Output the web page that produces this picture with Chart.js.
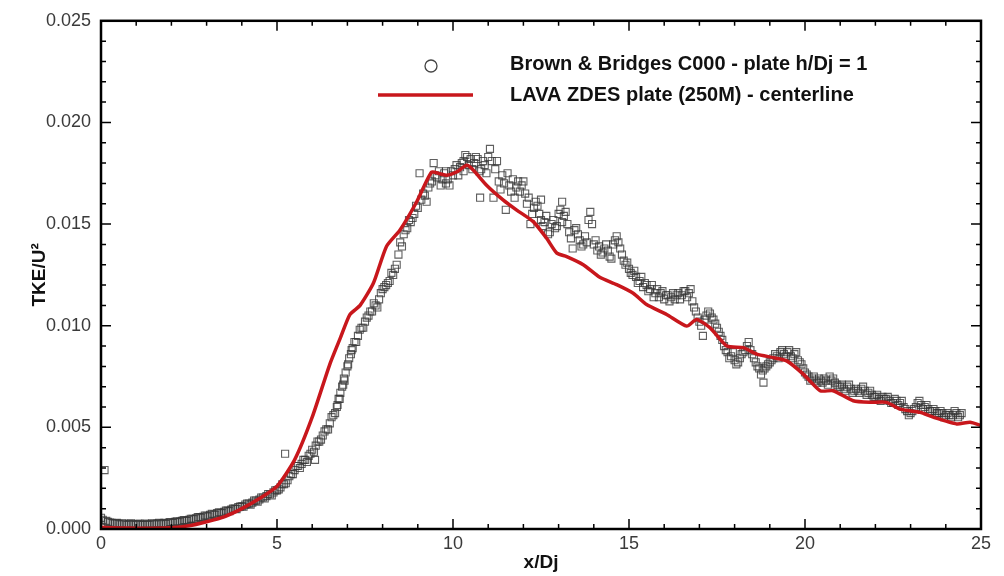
<!DOCTYPE html>
<html>
<head>
<meta charset="utf-8">
<script src="https://cdn.jsdelivr.net/npm/chart.js@4"></script>
<style>
  html, body { margin: 0; padding: 0; background: #fff; }
  #wrap { width: 1004px; height: 576px; position: relative; }
</style>
</head>
<body>
<div id="wrap"><canvas id="tkeChart" width="1004" height="576"></canvas></div>
<script>
const expX = [
  0.00, 0.05, 0.10, 0.15, 0.20, 0.30, 0.40, 0.50, 0.60, 0.70, 0.80, 0.90,
  1.00, 1.10, 1.20, 1.30, 1.40, 1.50, 1.60, 1.70, 1.80, 1.90, 2.00, 2.10,
  2.20, 2.30, 2.40, 2.50, 2.60, 2.70, 2.80, 2.90, 3.00, 3.10, 3.20, 3.30,
  3.40, 3.50, 3.60, 3.70, 3.80, 3.90, 4.00, 4.10, 4.20, 4.30, 4.40, 4.50,
  4.60, 4.70, 4.80, 4.90, 5.00, 5.10, 5.20, 5.23, 5.30, 5.40, 5.50, 5.60,
  5.70, 5.80, 5.90, 6.00, 6.08, 6.10, 6.20, 6.30, 6.40, 6.50, 6.60, 6.70,
  6.75, 6.80, 6.85, 6.90, 6.95, 7.00, 7.05, 7.10, 7.15, 7.20, 7.30, 7.40,
  7.50, 7.60, 7.70, 7.80, 7.90, 8.00, 8.10, 8.20, 8.30, 8.40, 8.45, 8.50,
  8.60, 8.70, 8.80, 8.90, 9.00, 9.05, 9.10, 9.20, 9.30, 9.40, 9.45, 9.50,
  9.60, 9.70, 9.80, 9.80, 9.90, 10.00, 10.10, 10.20, 10.30, 10.30, 10.40, 10.50,
  10.60, 10.70, 10.77, 10.80, 10.90, 11.00, 11.05, 11.10, 11.15, 11.20, 11.30, 11.40,
  11.50, 11.60, 11.70, 11.80, 11.90, 12.00, 12.10, 12.20, 12.30, 12.40, 12.50, 12.50,
  12.60, 12.70, 12.80, 12.90, 13.00, 13.10, 13.10, 13.20, 13.30, 13.40, 13.50, 13.60,
  13.70, 13.80, 13.90, 13.95, 14.00, 14.10, 14.20, 14.30, 14.40, 14.50, 14.60, 14.70,
  14.80, 14.90, 15.00, 15.10, 15.20, 15.30, 15.40, 15.50, 15.60, 15.70, 15.80, 15.90,
  16.00, 16.10, 16.20, 16.30, 16.40, 16.50, 16.60, 16.70, 16.80, 16.90, 17.00, 17.10,
  17.20, 17.30, 17.40, 17.50, 17.60, 17.70, 17.80, 17.90, 18.00, 18.10, 18.20, 18.30,
  18.40, 18.50, 18.60, 18.70, 18.80, 18.82, 18.90, 19.00, 19.10, 19.20, 19.30, 19.40,
  19.50, 19.60, 19.70, 19.80, 19.90, 20.00, 20.10, 20.20, 20.30, 20.40, 20.50, 20.60,
  20.70, 20.80, 20.90, 21.00, 21.10, 21.20, 21.30, 21.40, 21.50, 21.60, 21.70, 21.80,
  21.90, 22.00, 22.10, 22.20, 22.30, 22.40, 22.50, 22.60, 22.70, 22.80, 22.90, 23.00,
  23.10, 23.20, 23.30, 23.40, 23.50, 23.60, 23.70, 23.80, 23.90, 24.00, 24.10, 24.20,
  24.30, 24.40
];
const expTke = [
  0.00055, 0.00045, 0.0029, 0.00040, 0.00035, 0.00030, 0.00028, 0.00025, 0.00028, 0.00022, 0.00025, 0.00024,
  0.00022, 0.00026, 0.00020, 0.00024, 0.00022, 0.00025, 0.00027, 0.00024, 0.00030, 0.00028, 0.00032, 0.00035,
  0.00033, 0.00040, 0.00042, 0.00045, 0.00050, 0.00052, 0.00058, 0.00060, 0.00065, 0.00070, 0.00072, 0.00078,
  0.00080, 0.00085, 0.00090, 0.00095, 0.00100, 0.00108, 0.00112, 0.00120, 0.00125, 0.00130, 0.00140, 0.00145,
  0.00155, 0.00162, 0.00170, 0.00180, 0.00190, 0.00205, 0.00220, 0.0037, 0.00240, 0.00270, 0.00290, 0.00310,
  0.00320, 0.00340, 0.00360, 0.00390, 0.00340, 0.00410, 0.00430, 0.00460, 0.00490, 0.00520, 0.00560, 0.00600,
  0.00640, 0.00670, 0.00700, 0.00740, 0.00770, 0.00800, 0.00840, 0.00860, 0.00890, 0.00920, 0.00950, 0.00990,
  0.01020, 0.01050, 0.01070, 0.01100, 0.01130, 0.01180, 0.01200, 0.01220, 0.01250, 0.01300, 0.01350, 0.01410,
  0.01450, 0.01480, 0.01510, 0.01550, 0.01580, 0.01750, 0.01620, 0.01640, 0.01680, 0.01710, 0.01800, 0.01740,
  0.01760, 0.01720, 0.01700, 0.01760, 0.01690, 0.01740, 0.01790, 0.01780, 0.01810, 0.01760, 0.01830, 0.01820,
  0.01800, 0.01820, 0.01630, 0.01770, 0.01790, 0.01830, 0.01870, 0.01810, 0.01630, 0.01770, 0.01710, 0.01740,
  0.01570, 0.01690, 0.01720, 0.01680, 0.01660, 0.01710, 0.01600, 0.01500, 0.01580, 0.01590, 0.01520, 0.01620,
  0.01510, 0.01450, 0.01500, 0.01480, 0.01550, 0.01610, 0.01510, 0.01560, 0.01460, 0.01380, 0.01480, 0.01420,
  0.01400, 0.01410, 0.01560, 0.01500, 0.01400, 0.01370, 0.01350, 0.01380, 0.01370, 0.01330, 0.01420, 0.01410,
  0.01350, 0.01300, 0.01280, 0.01250, 0.01240, 0.01220, 0.01190, 0.01200, 0.01180, 0.01140, 0.01180, 0.01160,
  0.01130, 0.01150, 0.01140, 0.01130, 0.01160, 0.01150, 0.01170, 0.01160, 0.01120, 0.01070, 0.01020, 0.00950,
  0.01050, 0.01060, 0.01030, 0.00990, 0.00950, 0.00900, 0.00870, 0.00850, 0.00830, 0.00820, 0.00860, 0.00880,
  0.00920, 0.00860, 0.00820, 0.00790, 0.00780, 0.00720, 0.00800, 0.00820, 0.00840, 0.00850, 0.00870, 0.00860,
  0.00870, 0.00850, 0.00860, 0.00830, 0.00810, 0.00770, 0.00750, 0.00740, 0.00730, 0.00740, 0.00720, 0.00730,
  0.00750, 0.00740, 0.00710, 0.00700, 0.00690, 0.00700, 0.00690, 0.00680, 0.00680, 0.00690, 0.00680, 0.00670,
  0.00660, 0.00650, 0.00640, 0.00650, 0.00640, 0.00630, 0.00620, 0.00630, 0.00620, 0.00600, 0.00580, 0.00570,
  0.00590, 0.00620, 0.00610, 0.00600, 0.00590, 0.00580, 0.00580, 0.00570, 0.00570, 0.00560, 0.00560, 0.00560,
  0.00570, 0.00560
];

// second, interleaved pass over the same measurement band
const expX2 = [
  0.25, 0.35, 0.45, 0.55, 0.65, 0.75, 0.85, 0.95, 1.05, 1.15, 1.25, 1.35,
  1.45, 1.55, 1.65, 1.75, 1.85, 1.95, 2.05, 2.15, 2.25, 2.35, 2.45, 2.55,
  2.65, 2.75, 2.85, 2.95, 3.05, 3.15, 3.25, 3.35, 3.45, 3.55, 3.65, 3.75,
  3.85, 3.95, 4.05, 4.15, 4.25, 4.35, 4.45, 4.55, 4.65, 4.75, 4.85, 4.95,
  5.05, 5.15, 5.25, 5.35, 5.45, 5.55, 5.65, 5.75, 5.85, 5.95, 6.05, 6.15,
  6.25, 6.35, 6.45, 6.55, 6.65, 6.72, 6.78, 6.88, 6.92, 7.02, 7.12, 7.25,
  7.35, 7.45, 7.55, 7.65, 7.75, 7.85, 7.95, 8.05, 8.15, 8.25, 8.35, 8.55,
  8.65, 8.75, 8.85, 8.95, 9.15, 9.25, 9.35, 9.55, 9.65, 9.75, 9.85, 9.95,
  10.05, 10.15, 10.25, 10.35, 10.45, 10.55, 10.65, 10.75, 10.85, 10.95, 11.25, 11.35,
  11.45, 11.55, 11.65, 11.75, 11.85, 11.95, 12.05, 12.15, 12.25, 12.35, 12.45, 12.55,
  12.65, 12.75, 12.85, 12.95, 13.05, 13.15, 13.25, 13.35, 13.45, 13.55, 13.65, 13.75,
  13.85, 14.05, 14.15, 14.25, 14.35, 14.45, 14.55, 14.65, 14.75, 14.85, 14.95, 15.05,
  15.15, 15.25, 15.35, 15.45, 15.55, 15.65, 15.75, 15.85, 15.95, 16.05, 16.15, 16.25,
  16.35, 16.45, 16.55, 16.65, 16.75, 16.85, 16.95, 17.05, 17.15, 17.25, 17.35, 17.45,
  17.55, 17.65, 17.75, 17.85, 17.95, 18.05, 18.15, 18.25, 18.35, 18.45, 18.55, 18.65,
  18.75, 18.85, 18.95, 19.05, 19.15, 19.25, 19.35, 19.45, 19.55, 19.65, 19.75, 19.85,
  19.95, 20.05, 20.15, 20.25, 20.35, 20.45, 20.55, 20.65, 20.75, 20.85, 20.95, 21.05,
  21.15, 21.25, 21.35, 21.45, 21.55, 21.65, 21.75, 21.85, 21.95, 22.05, 22.15, 22.25,
  22.35, 22.45, 22.55, 22.65, 22.75, 22.85, 22.95, 23.05, 23.15, 23.25, 23.35, 23.45,
  23.55, 23.65, 23.75, 23.85, 23.95, 24.05, 24.15, 24.25, 24.35, 24.45
];
const expTke2 = [
  0.00032, 0.00027, 0.00030, 0.00022, 0.00026, 0.00020, 0.00028, 0.00020, 0.00025, 0.00020, 0.00027, 0.00020,
  0.00028, 0.00022, 0.00030, 0.00028, 0.00025, 0.00034, 0.00030, 0.00038, 0.00036, 0.00044, 0.00040, 0.00050,
  0.00048, 0.00058, 0.00055, 0.00066, 0.00062, 0.00075, 0.00070, 0.00082, 0.00078, 0.00090, 0.00088, 0.00100,
  0.00098, 0.00110, 0.00110, 0.00125, 0.00120, 0.00140, 0.00135, 0.00155, 0.00150, 0.00172, 0.00165, 0.00190,
  0.00195, 0.00220, 0.00225, 0.00260, 0.00270, 0.00310, 0.00300, 0.00340, 0.00330, 0.00370, 0.00380, 0.00430,
  0.00440, 0.00480, 0.00490, 0.00550, 0.00570, 0.00610, 0.00640, 0.00710, 0.00730, 0.00810, 0.00880, 0.00920,
  0.00980, 0.00990, 0.01040, 0.01070, 0.01110, 0.01090, 0.01160, 0.01190, 0.01210, 0.01260, 0.01280, 0.01390,
  0.01470, 0.01520, 0.01530, 0.01590, 0.01650, 0.01610, 0.01700, 0.01730, 0.01690, 0.01750, 0.01720, 0.01760,
  0.01770, 0.01740, 0.01800, 0.01840, 0.01790, 0.01770, 0.01830, 0.01760, 0.01810, 0.01750, 0.01810, 0.01670,
  0.01700, 0.01750, 0.01660, 0.01630, 0.01710, 0.01690, 0.01650, 0.01630, 0.01550, 0.01610, 0.01550, 0.01490,
  0.01540, 0.01460, 0.01520, 0.01490, 0.01570, 0.01540, 0.01500, 0.01430, 0.01470, 0.01450, 0.01390, 0.01440,
  0.01520, 0.01420, 0.01390, 0.01360, 0.01400, 0.01340, 0.01400, 0.01440, 0.01380, 0.01320, 0.01310, 0.01260,
  0.01270, 0.01210, 0.01240, 0.01210, 0.01170, 0.01200, 0.01160, 0.01140, 0.01170, 0.01150, 0.01120, 0.01160,
  0.01150, 0.01130, 0.01170, 0.01140, 0.01180, 0.01090, 0.01040, 0.01000, 0.01030, 0.01070, 0.01040, 0.01010,
  0.00970, 0.00930, 0.00880, 0.00840, 0.00870, 0.00810, 0.00840, 0.00870, 0.00900, 0.00880, 0.00840, 0.00800,
  0.00760, 0.00790, 0.00810, 0.00830, 0.00860, 0.00840, 0.00880, 0.00850, 0.00880, 0.00840, 0.00870, 0.00820,
  0.00790, 0.00760, 0.00730, 0.00750, 0.00720, 0.00730, 0.00740, 0.00710, 0.00730, 0.00720, 0.00700, 0.00710,
  0.00680, 0.00710, 0.00670, 0.00690, 0.00670, 0.00700, 0.00660, 0.00680, 0.00650, 0.00660, 0.00630, 0.00640,
  0.00650, 0.00620, 0.00640, 0.00610, 0.00630, 0.00590, 0.00560, 0.00580, 0.00600, 0.00630, 0.00590, 0.00610,
  0.00580, 0.00590, 0.00570, 0.00580, 0.00550, 0.00570, 0.00550, 0.00580, 0.00550, 0.00570
];

// LAVA ZDES centerline
const lavaX = [
  0, 0.5, 1, 1.5, 2, 2.5, 3, 3.5, 4, 4.5, 5, 5.5, 6, 6.5, 6.8, 7.07, 7.36, 7.74, 8.11, 8.49,
  8.97, 9.39, 9.63, 9.82, 10.1, 10.39, 10.58, 10.96, 11.43, 11.81, 12.28, 12.66, 12.95, 13.23, 13.7, 14.17,
  14.65, 15.12, 15.5, 16.07, 16.64, 16.92, 17.3, 17.78, 18.25, 18.63, 19.1, 19.48, 19.95, 20.43, 20.8, 21.37,
  21.85, 22.32, 22.7, 23.27, 23.64, 24.31, 24.69, 25
];
const lavaTke = [
  0.00008, 0.00005, 0.00004, 0.00004, 0.00006, 0.00016, 0.00036, 0.0006, 0.0010, 0.0015, 0.0021, 0.0034, 0.0055, 0.0081, 0.0094, 0.01055, 0.0110, 0.0121, 0.0139, 0.0147,
  0.0161, 0.01756, 0.01748, 0.0174, 0.01756, 0.01789, 0.01765, 0.0169, 0.01618, 0.01569, 0.01512, 0.0143, 0.01357, 0.0134, 0.0130, 0.01238,
  0.01202, 0.0116, 0.01104, 0.01055, 0.00998, 0.01031, 0.0099, 0.0090, 0.00892, 0.0086, 0.00843, 0.00827, 0.00762, 0.0068, 0.0068, 0.00631,
  0.00623, 0.00623, 0.0059, 0.00574, 0.0055, 0.00517, 0.00525, 0.00509
];

const xTicks = [0, 5, 10, 15, 20, 25];
const yTicks = [0.000, 0.005, 0.010, 0.015, 0.020, 0.025];

const expLabel = 'Brown & Bridges C000 - plate h/Dj = 1';
const lavaLabel = 'LAVA ZDES plate (250M) - centerline';

const FONT = 'Liberation Sans, Arial, Helvetica, sans-serif';

// inward major/minor ticks on all four sides + legend box
const frameTicks = {
  id: 'frameTicks',
  afterDraw(chart) {
    const { ctx, chartArea: a, scales: { x, y } } = chart;
    ctx.save();
    ctx.strokeStyle = '#000';
    ctx.lineWidth = 1.5;
    for (let v = 0; v <= 25; v += 1) {
      const px = x.getPixelForValue(v);
      const len = v % 5 === 0 ? 10 : 5;
      ctx.beginPath();
      ctx.moveTo(px, a.bottom); ctx.lineTo(px, a.bottom - len);
      ctx.moveTo(px, a.top); ctx.lineTo(px, a.top + len);
      ctx.stroke();
    }
    for (let i = 0; i <= 25; i++) {
      const py = y.getPixelForValue(i * 0.001);
      const len = i % 5 === 0 ? 10 : 5;
      ctx.beginPath();
      ctx.moveTo(a.left, py); ctx.lineTo(a.left + len, py);
      ctx.moveTo(a.right, py); ctx.lineTo(a.right - len, py);
      ctx.stroke();
    }
    ctx.lineWidth = 2.5;
    ctx.strokeRect(a.left, a.top, a.right - a.left, a.bottom - a.top);

    // legend
    ctx.font = 'bold 20px ' + FONT;
    ctx.fillStyle = '#111';
    ctx.textBaseline = 'middle';
    ctx.textAlign = 'left';
    ctx.fillText(expLabel, 510, 64);
    ctx.fillText(lavaLabel, 510, 95);
    ctx.lineWidth = 1.3;
    ctx.strokeStyle = '#444';
    ctx.beginPath();
    ctx.arc(431, 66, 6, 0, Math.PI * 2);
    ctx.stroke();
    ctx.lineWidth = 3.5;
    ctx.strokeStyle = '#c8171c';
    ctx.beginPath();
    ctx.moveTo(378, 95); ctx.lineTo(473, 95);
    ctx.stroke();
    ctx.restore();
  }
};

const ctx = document.getElementById('tkeChart').getContext('2d');

const expPoints = expX.map((v, i) => ({ x: v, y: expTke[i] }))
  .concat(expX2.map((v, i) => ({ x: v, y: expTke2[i] })));

const tkeChart = new Chart(ctx, {
  type: 'scatter',
  data: {
    datasets: [
      {
        label: lavaLabel,
        data: lavaX.map((v, i) => ({ x: v, y: lavaTke[i] })),
        showLine: true,
        borderColor: '#c8171c',
        borderWidth: 3.5,
        pointRadius: 0,
        tension: 0.2,
        order: 1
      },
      {
        label: expLabel,
        data: expPoints,
        pointStyle: 'rect',
        pointRadius: 5,
        borderColor: 'rgba(55,55,55,0.8)',
        backgroundColor: 'rgba(0,0,0,0)',
        borderWidth: 1.1,
        order: 2
      }
    ]
  },
  options: {
    responsive: false,
    animation: false,
    layout: { padding: { left: 28, top: 18, right: 23, bottom: 0 } },
    plugins: {
      legend: { display: false },
      tooltip: { enabled: false }
    },
    scales: {
      x: {
        type: 'linear',
        min: 0,
        max: 25,
        afterFit: s => { s.height = 47; },
        afterBuildTicks: s => { s.ticks = xTicks.map(v => ({ value: v })); },
        grid: { display: false, drawTicks: false },
        border: { display: false },
        ticks: {
          padding: 4,
          color: '#3a3a3a',
          font: { family: FONT, size: 18 }
        },
        title: {
          display: true,
          text: 'x/Dj',
          color: '#111',
          padding: { top: 0, bottom: 2 },
          font: { family: FONT, size: 19, weight: 'bold' }
        }
      },
      y: {
        type: 'linear',
        min: 0,
        max: 0.025,
        afterFit: s => { s.width = 73; },
        afterBuildTicks: s => { s.ticks = yTicks.map(v => ({ value: v })); },
        grid: { display: false, drawTicks: false },
        border: { display: false },
        ticks: {
          padding: 10,
          color: '#3a3a3a',
          font: { family: FONT, size: 18 },
          callback: v => v.toFixed(3)
        },
        title: {
          display: true,
          text: 'TKE/U²',
          color: '#111',
          padding: { top: 0, bottom: 0 },
          font: { family: FONT, size: 19, weight: 'bold' }
        }
      }
    }
  },
  plugins: [frameTicks]
});
</script>
</body>
</html>
